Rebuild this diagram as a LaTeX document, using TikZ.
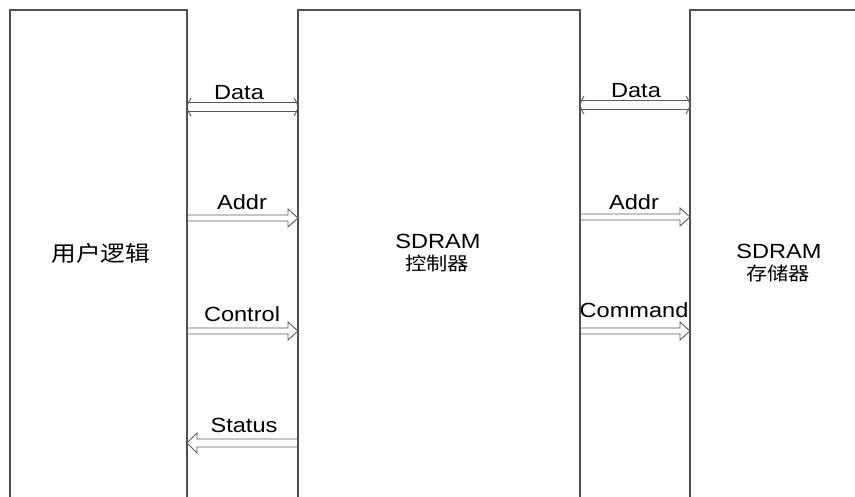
\documentclass[tikz,border=0pt]{standalone}
\usepackage{fontspec}
\setmainfont{Liberation Sans}[FakeStretch=1.15]
\newfontfamily\cjk{Noto Sans CJK SC}[FakeStretch=1.15]
\usetikzlibrary{calc}

\definecolor{edgegray}{HTML}{505050}
\definecolor{arrowgray}{HTML}{5A5A5A}

\tikzset{
  boxline/.style={draw=edgegray, line width=1.1pt},
  arrowline/.style={draw=arrowgray, line width=0.9pt, line join=miter},
  siglabel/.style={anchor=base, inner sep=0pt, font=\fontsize{20.5}{24}\selectfont},
  cjklabel/.style={anchor=base, inner sep=0pt, font=\cjk\fontsize{18.5}{20}\selectfont},
  bigcjk/.style={anchor=base, inner sep=0pt, font=\cjk\fontsize{21.5}{24}\selectfont},
}

% hollow one-way arrow from #1 to #2 (horizontal); #3 = half shaft gap, #4 = half head height
\newcommand\hollowarrow[4]{%
  \draw[arrowline] let \p1=(#1), \p2=(#2), \n1={ifthenelse(\x2>\x1,1,-1)} in
    (\x1,\y1+#3) -- ({\x2-\n1*10pt},\y1+#3) -- ({\x2-\n1*10pt},\y1+#4)
    -- (\x2,\y1) -- ({\x2-\n1*10pt},\y1-#4) -- ({\x2-\n1*10pt},\y1-#3) -- (\x1,\y1-#3);}

% hollow two-way arrow between #1 (left) and #2 (right)
\newcommand\hollowbiarrow[2]{%
  \draw[arrowline] let \p1=(#1), \p2=(#2) in
    (\x1+1pt,\y1+4.5pt) -- (\x2-1pt,\y1+4.5pt)
    (\x1+1pt,\y1-4.5pt) -- (\x2-1pt,\y1-4.5pt)
    (\x1+4pt,\y1+9pt) .. controls (\x1+1pt,\y1+4pt) .. (\x1,\y1)
      .. controls (\x1+1pt,\y1-4pt) .. (\x1+4pt,\y1-9pt)
    (\x2-4pt,\y1+9pt) .. controls (\x2-1pt,\y1+4pt) .. (\x2,\y1)
      .. controls (\x2-1pt,\y1-4pt) .. (\x2-4pt,\y1-9pt);}

\begin{document}
\begin{tikzpicture}[x=1pt, y=-1pt]
\useasboundingbox (0,0) rectangle (855,497);

% three blocks, open at the bottom
\draw[boxline] (10,497) -- (10,10) -- (187,10) -- (187,497);
\draw[boxline] (298,497) -- (298,10) -- (580,10) -- (580,497);
\draw[boxline] (690,497) -- (690,10) -- (855,10);

% block titles
\node[bigcjk] (user) at (101,262) {用户逻辑};
\node[siglabel] (ctrlA) at (438,249) {SDRAM};
\node[cjklabel] (ctrlB) at (437,271) {控制器};
\node[siglabel] (memA) at (779,259) {SDRAM};
\node[cjklabel] (memB) at (778,281) {存储器};

% connector end points on the block edges
\coordinate (uData) at (187,107);  \coordinate (cDataL) at (298,107);
\coordinate (uAddr) at (187,218);  \coordinate (cAddrL) at (298,218);
\coordinate (uCtl)  at (187,331);  \coordinate (cCtlL)  at (298,331);
\coordinate (uSta)  at (187,443);  \coordinate (cStaL)  at (298,443);
\coordinate (cDataR) at (580,105); \coordinate (mData) at (690,105);
\coordinate (cAddrR) at (580,217); \coordinate (mAddr) at (690,217);
\coordinate (cCmdR)  at (580,331); \coordinate (mCmd)  at (690,331);

% user logic <-> controller
\hollowbiarrow{uData}{cDataL}
\hollowarrow{uAddr}{cAddrL}{3pt}{9pt}
\hollowarrow{uCtl}{cCtlL}{3pt}{9pt}
\hollowarrow{cStaL}{uSta}{4pt}{10pt}

% controller <-> memory
\hollowbiarrow{cDataR}{mData}
\hollowarrow{cAddrR}{mAddr}{3pt}{9pt}
\hollowarrow{cCmdR}{mCmd}{3pt}{9pt}

% signal names
\node[siglabel] (lData) at (239,100) {Data};
\node[siglabel] (lAddr) at (242,210) {Addr};
\node[siglabel] (lCtl)  at (242,322) {Control};
\node[siglabel] (lSta)  at (244,432) {Status};
\node[siglabel] (rData) at (636,98)  {Data};
\node[siglabel] (rAddr) at (634,210) {Addr};
\node[siglabel] (rCmd)  at (634,318) {Command};
\end{tikzpicture}
\end{document}
